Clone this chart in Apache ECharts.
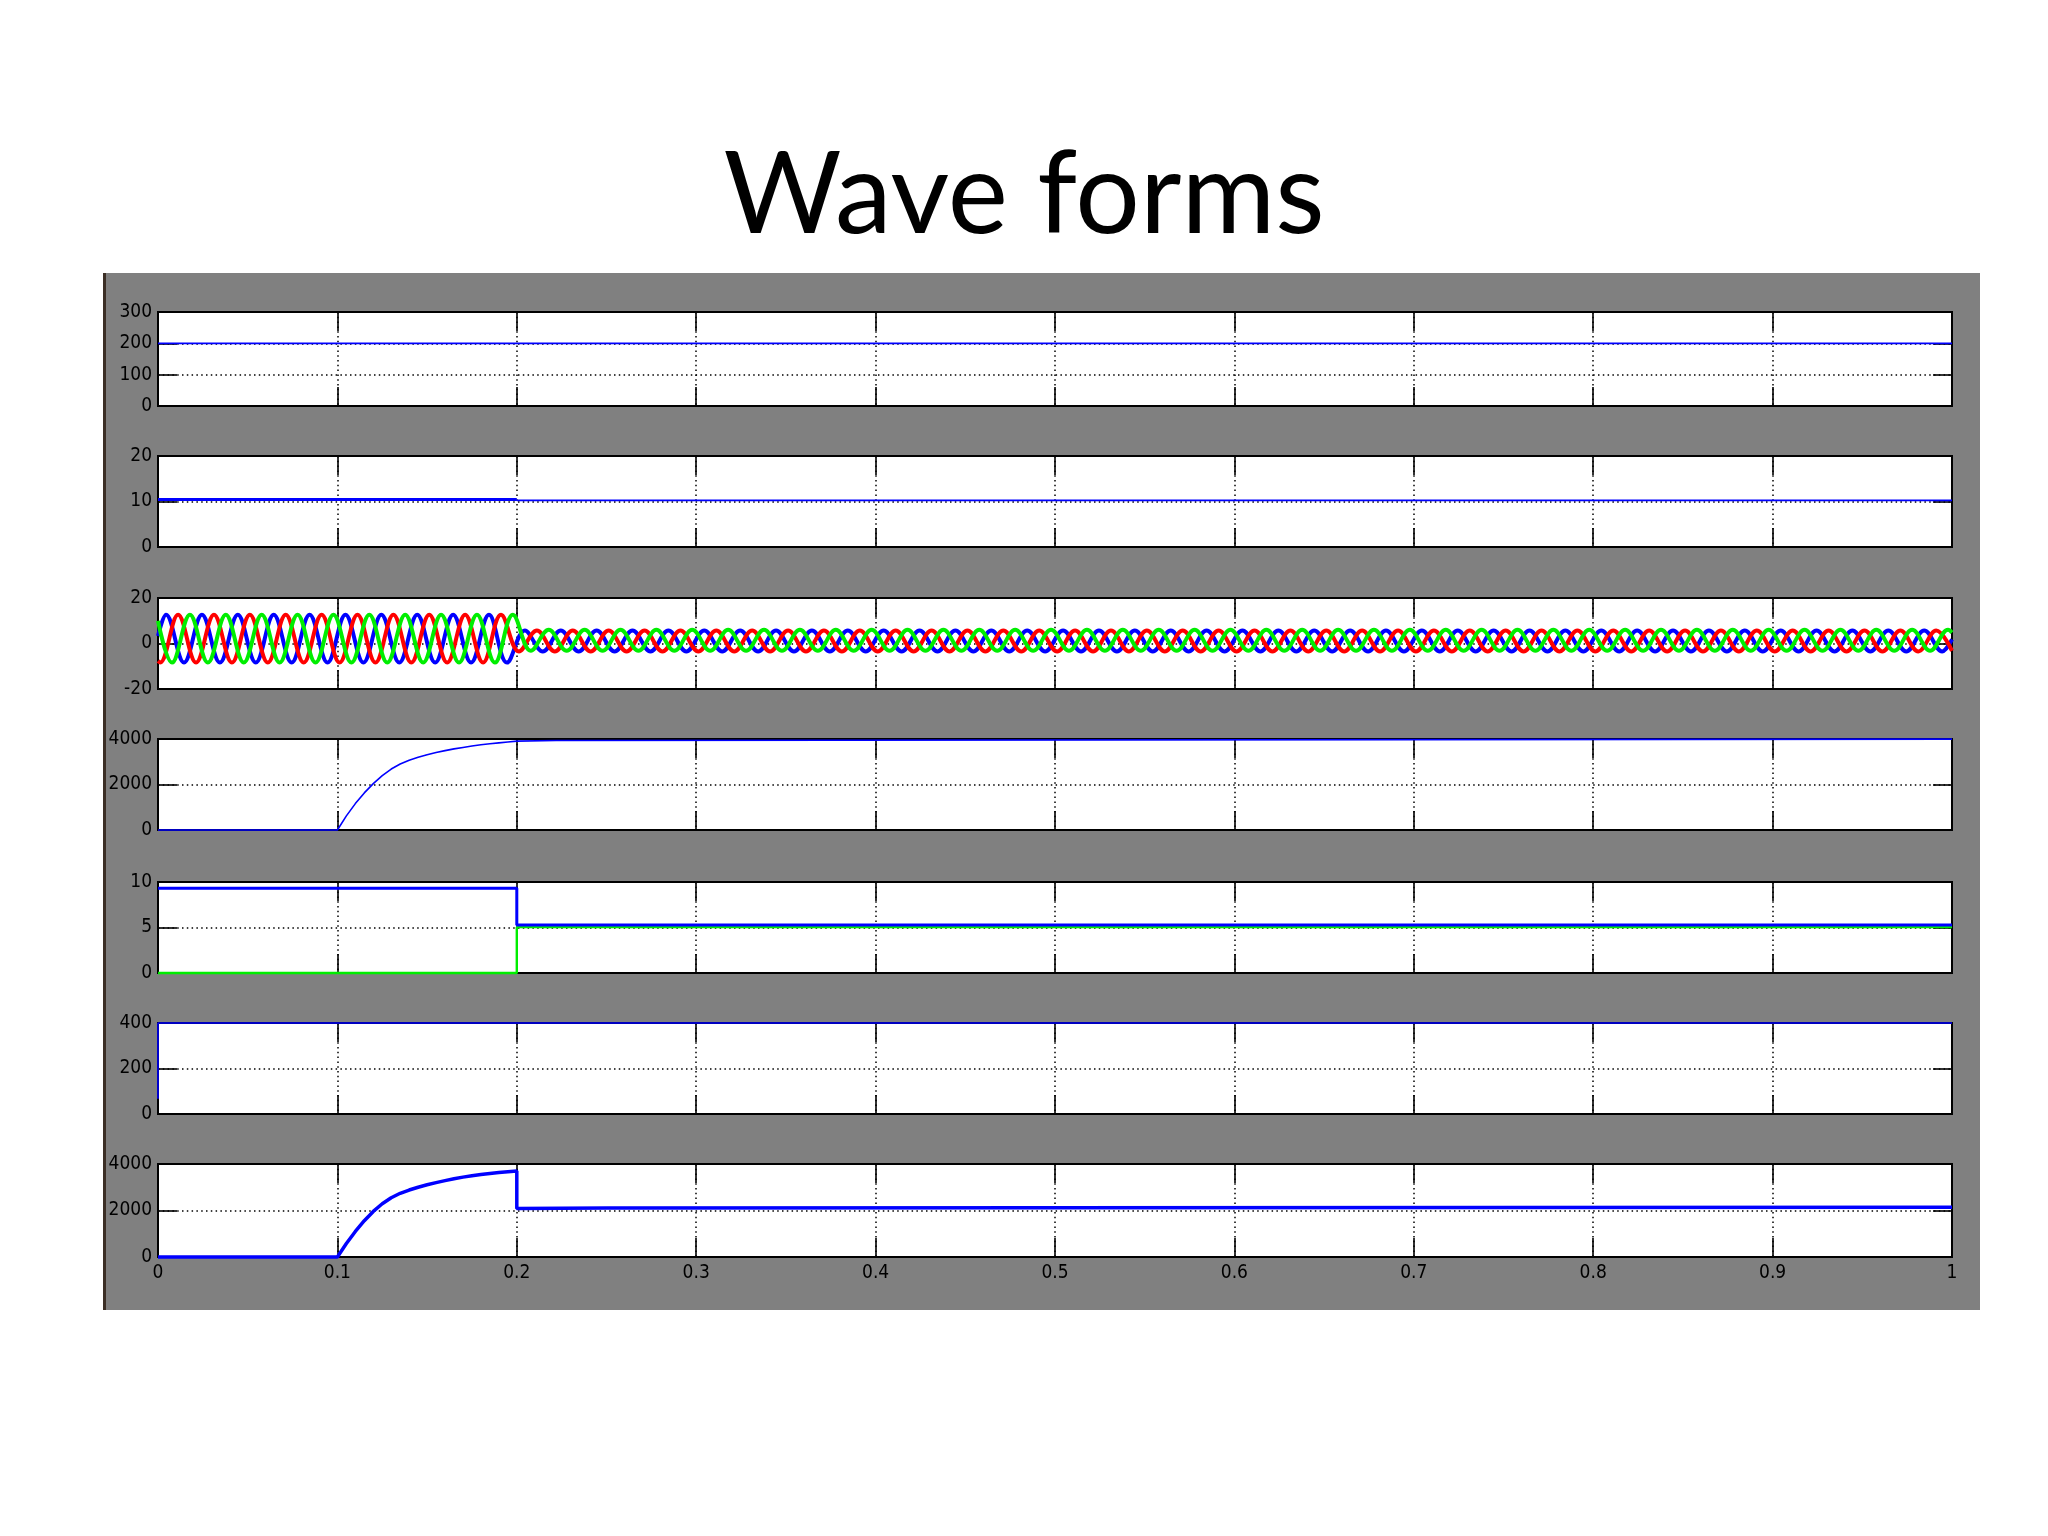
<!DOCTYPE html>
<html><head><meta charset="utf-8">
<script src="https://cdn.jsdelivr.net/npm/echarts@6/dist/echarts.min.js"></script>
<style>html,body{margin:0;padding:0;background:#fff}#c{width:2048px;height:1536px}</style>
</head><body><div id="c"></div>
<script>
// ---------- DATA ----------
const titleText = 'Wave forms';
const xTicks = [0, 0.1, 0.2, 0.3, 0.4, 0.5, 0.6, 0.7, 0.8, 0.9, 1];

const plot1Ticks = [0, 100, 200, 300];
const plot2Ticks = [0, 10, 20];
const plot3Ticks = [-20, 0, 20];
const plot4Ticks = [0, 2000, 4000];
const plot5Ticks = [0, 5, 10];
const plot6Ticks = [0, 200, 400];
const plot7Ticks = [0, 2000, 4000];

// plot 1
const plot1Time = [0, 1];
const plot1Value = [200, 200];

// plot 2
const plot2TimeA = [0, 0.2];
const plot2ValueA = [10.45, 10.45];
const plot2TimeB = [0.2, 1];
const plot2ValueB = [10.25, 10.25];

// plot 3 : three phase currents, extrema (time in ms)
const plot3BlueTimeMs = [0,
  4.5,14.5,24.5,34.5,44.5,54.5,64.5,74.5,84.5,94.5,
  104.5,114.5,124.5,134.5,144.5,154.5,164.5,174.5,184.5,194.5,
  204.5,214.5,224.5,234.5,244.5,254.5,264.5,274.5,284.5,294.5,
  304.5,314.5,324.5,334.5,344.5,354.5,364.5,374.5,384.5,394.5,
  404.5,414.5,424.5,434.5,444.5,454.5,464.5,474.5,484.5,494.5,
  504.5,514.5,524.5,534.5,544.5,554.5,564.5,574.5,584.5,594.5,
  604.5,614.5,624.5,634.5,644.5,654.5,664.5,674.5,684.5,694.5,
  704.5,714.5,724.5,734.5,744.5,754.5,764.5,774.5,784.5,794.5,
  804.5,814.5,824.5,834.5,844.5,854.5,864.5,874.5,884.5,894.5,
  904.5,914.5,924.5,934.5,944.5,954.5,964.5,974.5,984.5,994.5,
  1000];
const plot3BlueValue = [3.3,
  12.6,-8.4,12.6,-8.4,12.6,-8.4,12.6,-8.4,12.6,-8.4,
  12.6,-8.4,12.6,-8.4,12.6,-8.4,12.6,-8.4,12.6,-8.4,
  5.7,-3.5,5.7,-3.5,5.7,-3.5,5.7,-3.5,5.7,-3.5,
  5.7,-3.5,5.7,-3.5,5.7,-3.5,5.7,-3.5,5.7,-3.5,
  5.7,-3.5,5.7,-3.5,5.7,-3.5,5.7,-3.5,5.7,-3.5,
  5.7,-3.5,5.7,-3.5,5.7,-3.5,5.7,-3.5,5.7,-3.5,
  5.7,-3.5,5.7,-3.5,5.7,-3.5,5.7,-3.5,5.7,-3.5,
  5.7,-3.5,5.7,-3.5,5.7,-3.5,5.7,-3.5,5.7,-3.5,
  5.7,-3.5,5.7,-3.5,5.7,-3.5,5.7,-3.5,5.7,-3.5,
  5.7,-3.5,5.7,-3.5,5.7,-3.5,5.7,-3.5,5.7,-3.5,
  1.8];
const plot3RedTimeMs = [0,
  1.2,11.2,21.2,31.2,41.2,51.2,61.2,71.2,81.2,91.2,
  101.2,111.2,121.2,131.2,141.2,151.2,161.2,171.2,181.2,191.2,
  201.2,211.2,221.2,231.2,241.2,251.2,261.2,271.2,281.2,291.2,
  301.2,311.2,321.2,331.2,341.2,351.2,361.2,371.2,381.2,391.2,
  401.2,411.2,421.2,431.2,441.2,451.2,461.2,471.2,481.2,491.2,
  501.2,511.2,521.2,531.2,541.2,551.2,561.2,571.2,581.2,591.2,
  601.2,611.2,621.2,631.2,641.2,651.2,661.2,671.2,681.2,691.2,
  701.2,711.2,721.2,731.2,741.2,751.2,761.2,771.2,781.2,791.2,
  801.2,811.2,821.2,831.2,841.2,851.2,861.2,871.2,881.2,891.2,
  901.2,911.2,921.2,931.2,941.2,951.2,961.2,971.2,981.2,991.2,
  1000];
const plot3RedValue = [-7.7,
  -8.4,12.6,-8.4,12.6,-8.4,12.6,-8.4,12.6,-8.4,12.6,
  -8.4,12.6,-8.4,12.6,-8.4,12.6,-8.4,12.6,-8.4,12.6,
  -3.5,5.7,-3.5,5.7,-3.5,5.7,-3.5,5.7,-3.5,5.7,
  -3.5,5.7,-3.5,5.7,-3.5,5.7,-3.5,5.7,-3.5,5.7,
  -3.5,5.7,-3.5,5.7,-3.5,5.7,-3.5,5.7,-3.5,5.7,
  -3.5,5.7,-3.5,5.7,-3.5,5.7,-3.5,5.7,-3.5,5.7,
  -3.5,5.7,-3.5,5.7,-3.5,5.7,-3.5,5.7,-3.5,5.7,
  -3.5,5.7,-3.5,5.7,-3.5,5.7,-3.5,5.7,-3.5,5.7,
  -3.5,5.7,-3.5,5.7,-3.5,5.7,-3.5,5.7,-3.5,5.7,
  -3.5,5.7,-3.5,5.7,-3.5,5.7,-3.5,5.7,-3.5,5.7,
  -3.2];
const plot3GreenTimeMs = [0,
  7.8,17.8,27.8,37.8,47.8,57.8,67.8,77.8,87.8,97.8,
  107.8,117.8,127.8,137.8,147.8,157.8,167.8,177.8,187.8,197.8,
  207.8,217.8,227.8,237.8,247.8,257.8,267.8,277.8,287.8,297.8,
  307.8,317.8,327.8,337.8,347.8,357.8,367.8,377.8,387.8,397.8,
  407.8,417.8,427.8,437.8,447.8,457.8,467.8,477.8,487.8,497.8,
  507.8,517.8,527.8,537.8,547.8,557.8,567.8,577.8,587.8,597.8,
  607.8,617.8,627.8,637.8,647.8,657.8,667.8,677.8,687.8,697.8,
  707.8,717.8,727.8,737.8,747.8,757.8,767.8,777.8,787.8,797.8,
  807.8,817.8,827.8,837.8,847.8,857.8,867.8,877.8,887.8,897.8,
  907.8,917.8,927.8,937.8,947.8,957.8,967.8,977.8,987.8,997.8,
  1000];
const plot3GreenValue = [9.9,
  -8.4,12.6,-8.4,12.6,-8.4,12.6,-8.4,12.6,-8.4,12.6,
  -8.4,12.6,-8.4,12.6,-8.4,12.6,-8.4,12.6,-8.4,12.6,
  -3.2,6.0,-3.2,6.0,-3.2,6.0,-3.2,6.0,-3.2,6.0,
  -3.2,6.0,-3.2,6.0,-3.2,6.0,-3.2,6.0,-3.2,6.0,
  -3.2,6.0,-3.2,6.0,-3.2,6.0,-3.2,6.0,-3.2,6.0,
  -3.2,6.0,-3.2,6.0,-3.2,6.0,-3.2,6.0,-3.2,6.0,
  -3.2,6.0,-3.2,6.0,-3.2,6.0,-3.2,6.0,-3.2,6.0,
  -3.2,6.0,-3.2,6.0,-3.2,6.0,-3.2,6.0,-3.2,6.0,
  -3.2,6.0,-3.2,6.0,-3.2,6.0,-3.2,6.0,-3.2,6.0,
  -3.2,6.0,-3.2,6.0,-3.2,6.0,-3.2,6.0,-3.2,6.0,
  4.8];

// plot 4
const plot4Time = [0, 0.1, 0.105, 0.11, 0.115, 0.12, 0.125, 0.13, 0.135, 0.14, 0.145, 0.15, 0.155, 0.16, 0.165, 0.17, 0.175, 0.18, 0.185, 0.19, 0.195, 0.2, 0.2, 0.222, 0.222, 1];
const plot4Value = [0, 0, 620, 1160, 1630, 2040, 2390, 2680, 2900, 3070, 3200, 3310, 3405, 3490, 3565, 3630, 3690, 3745, 3790, 3830, 3870, 3905, 3935, 3935, 3995, 3995];

// plot 5
const plot5BlueTime = [0, 0.2, 0.2, 1];
const plot5BlueValue = [9.3, 9.3, 5.27, 5.27];
const plot5GreenTime = [0, 0.2, 0.2, 1];
const plot5GreenValue = [0, 0, 5.04, 5.04];

// plot 6
const plot6Time = [0, 0, 1];
const plot6Value = [67, 400, 400];

// plot 7
const plot7Time = [0, 0.1, 0.105, 0.11, 0.115, 0.12, 0.125, 0.13, 0.135, 0.14, 0.145, 0.15, 0.155, 0.16, 0.165, 0.17, 0.175, 0.18, 0.185, 0.19, 0.195, 0.2, 0.2, 0.25, 1];
const plot7Value = [0, 0, 580, 1100, 1560, 1960, 2290, 2550, 2740, 2880, 3000, 3105, 3200, 3285, 3365, 3435, 3495, 3550, 3595, 3635, 3670, 3700, 2090, 2110, 2140];

// ---------- LAYOUT / STYLE ----------
const gridTops = [312, 456, 598, 739, 882, 1023, 1164];
const gridHeights = [94, 91, 91, 91, 91, 91, 93];
const yTickSets = [plot1Ticks, plot2Ticks, plot3Ticks, plot4Ticks, plot5Ticks, plot6Ticks, plot7Ticks];
const labelFont = "'Liberation Sans Narrow', 'DejaVu Sans Condensed', 'Liberation Sans', sans-serif";
const BLUE = '#0000ff', RED = '#ff0000', GREEN = '#00ee00';

const pairs = (xs, ys, scale) => xs.map((x, i) => [x * (scale || 1), ys[i]]);
const plain = v => String(+v.toFixed(6));

const grids = [], xAxes = [], yAxes = [];
const dotted = { show: true, lineStyle: { color: '#000', width: 1.5, type: [1.5, 3.3] } };
const tick = { show: true, inside: true, length: 19, lineStyle: { color: '#000', width: 1.6 } };
const aLine = { show: true, onZero: false, lineStyle: { color: '#000', width: 2 } };

for (let i = 0; i < 7; i++) {
  grids.push({ left: 158, right: 96, top: gridTops[i], height: gridHeights[i], show: true,
    backgroundColor: '#fff', borderColor: '#000', borderWidth: 2 });
  const xBase = { type: 'value', gridIndex: i, min: xTicks[0], max: xTicks[xTicks.length - 1],
    interval: xTicks[1] - xTicks[0], axisLine: aLine, axisTick: tick };
  xAxes.push(Object.assign({}, xBase, { position: 'bottom', splitLine: dotted,
    axisLabel: i === 6 ? { show: true, color: '#000', fontSize: 19, fontFamily: labelFont, margin: 7,
      formatter: plain, showMinLabel: true, showMaxLabel: true } : { show: false } }));
  xAxes.push(Object.assign({}, xBase, { position: 'top', splitLine: { show: false }, axisLabel: { show: false } }));
  const t = yTickSets[i];
  const yBase = { type: 'value', gridIndex: i, min: t[0], max: t[t.length - 1], interval: t[1] - t[0],
    axisLine: aLine, axisTick: tick };
  yAxes.push(Object.assign({}, yBase, { position: 'left', splitLine: dotted,
    axisLabel: { show: true, color: '#000', fontSize: 19, fontFamily: labelFont, margin: 6,
      formatter: plain, showMinLabel: true, showMaxLabel: true } }));
  yAxes.push(Object.assign({}, yBase, { position: 'right', splitLine: { show: false }, axisLabel: { show: false } }));
}

function line(i, data, color, width, extra) {
  return Object.assign({ type: 'line', xAxisIndex: 2 * i, yAxisIndex: 2 * i, data: data,
    showSymbol: false, symbol: 'none', animation: false, clip: false, z: 3,
    lineStyle: { color: color, width: width }, itemStyle: { color: color } }, extra || {});
}

const series = [
  line(0, pairs(plot1Time, plot1Value), BLUE, 1.6),
  line(1, pairs(plot2TimeA, plot2ValueA), BLUE, 3),
  line(1, pairs(plot2TimeB, plot2ValueB), BLUE, 1.6),
  line(2, pairs(plot3BlueTimeMs, plot3BlueValue, 0.001), BLUE, 4, { smooth: 0.38 }),
  line(2, pairs(plot3RedTimeMs, plot3RedValue, 0.001), RED, 4, { smooth: 0.38 }),
  line(2, pairs(plot3GreenTimeMs, plot3GreenValue, 0.001), GREEN, 4, { smooth: 0.38 }),
  line(3, pairs(plot4Time, plot4Value), BLUE, 1.6),
  line(4, pairs(plot5GreenTime, plot5GreenValue), GREEN, 2.4),
  line(4, pairs(plot5BlueTime, plot5BlueValue), BLUE, 3),
  line(5, pairs(plot6Time, plot6Value), BLUE, 1.6),
  line(6, pairs(plot7Time, plot7Value), BLUE, 3.5)
];

const chart = echarts.init(document.getElementById('c'), null, { renderer: 'canvas', width: 2048, height: 1536 });
chart.setOption({
  backgroundColor: '#fff',
  animation: false,
  graphic: [
    { type: 'rect', z: -10, shape: { x: 103, y: 273, width: 1877, height: 1037 }, style: { fill: '#808080' } },
    { type: 'rect', z: -9, shape: { x: 103, y: 273, width: 3, height: 1037 }, style: { fill: '#3b2e25' } },
    { type: 'text', z: 10, x: 1024, y: 196, style: { text: titleText, fontSize: 114, fontFamily: 'Lato, Carlito, sans-serif',
      fill: '#000', align: 'center', verticalAlign: 'middle' } }
  ],
  grid: grids,
  xAxis: xAxes,
  yAxis: yAxes,
  series: series
});
</script>
</body></html>
